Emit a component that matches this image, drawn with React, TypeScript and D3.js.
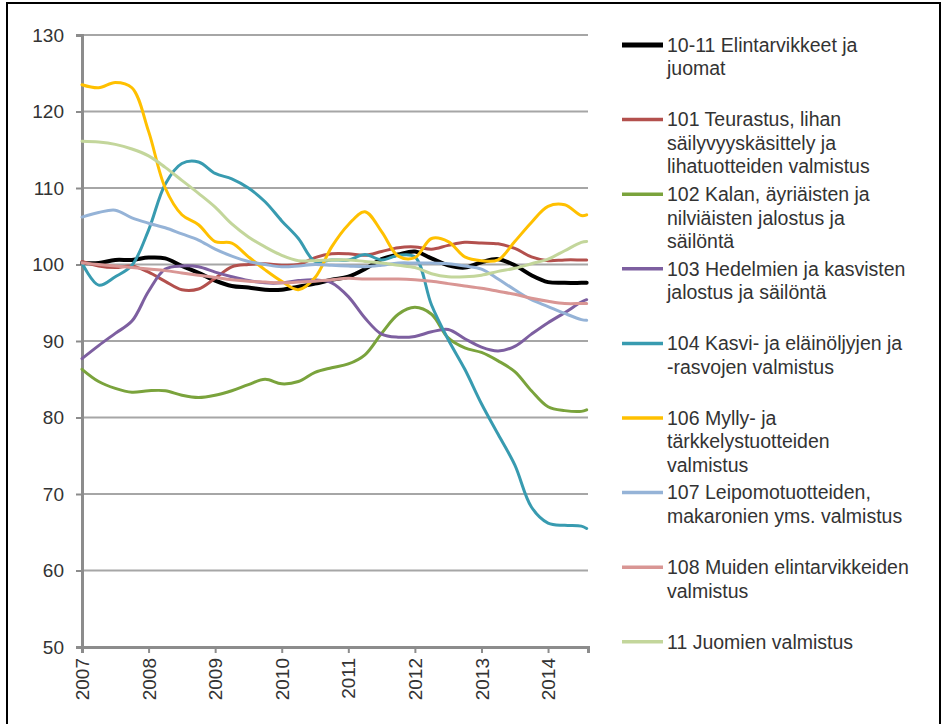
import React, { useRef, useEffect } from "react";
import * as d3 from "d3";

// quarterly readings, last point = mid 2014
const dates = [
  2007, 2007.25, 2007.5, 2007.75, 2008, 2008.25, 2008.5, 2008.75,
  2009, 2009.25, 2009.5, 2009.75, 2010, 2010.25, 2010.5, 2010.75,
  2011, 2011.25, 2011.5, 2011.75, 2012, 2012.25, 2012.5, 2012.75,
  2013, 2013.25, 2013.5, 2013.75, 2014, 2014.25, 2014.5, 2014.58,
];

const s1011 = [100.2, 100.2, 100.6, 100.6, 100.9, 100.8, 99.8, 98.9, 97.9, 97.2, 97.0, 96.7, 96.7, 97.1, 97.5, 98.0, 98.4, 99.4, 100.7, 101.3, 101.7, 100.8, 99.9, 99.6, 100.3, 100.7, 99.9, 98.6, 97.7, 97.6, 97.6, 97.6];
const s101 = [100.4, 99.8, 99.6, 99.8, 99.0, 97.8, 96.7, 96.8, 98.2, 99.7, 100.0, 100.1, 99.9, 100.0, 100.9, 101.4, 101.4, 101.2, 101.7, 102.2, 102.3, 102.0, 102.5, 102.9, 102.8, 102.7, 102.1, 101.0, 100.5, 100.6, 100.6, 100.6];
const s102 = [86.3, 84.7, 83.8, 83.3, 83.5, 83.5, 82.9, 82.6, 82.9, 83.5, 84.3, 85.0, 84.4, 84.7, 85.9, 86.5, 87.0, 88.2, 91.0, 93.5, 94.4, 93.5, 90.4, 89.1, 88.5, 87.4, 86.0, 83.5, 81.4, 80.9, 80.8, 81.0];
const s103 = [87.7, 89.4, 91.0, 92.6, 96.5, 99.4, 99.8, 99.7, 99.0, 98.4, 97.9, 97.6, 97.6, 97.9, 98.0, 97.6, 95.8, 93.0, 90.9, 90.5, 90.6, 91.2, 91.5, 90.3, 89.2, 88.7, 89.3, 90.9, 92.4, 93.7, 95.1, 95.4];
const s104 = [100.2, 97.3, 98.4, 99.9, 104.5, 110.5, 113.2, 113.4, 111.9, 111.2, 110.0, 108.2, 105.7, 103.4, 100.4, 100.6, 100.6, 101.3, 100.6, 101.2, 101.0, 94.7, 90.2, 86.3, 81.8, 77.8, 73.8, 68.3, 66.2, 65.9, 65.8, 65.5];
const s106 = [123.5, 123.1, 123.8, 123.1, 117.4, 110.0, 106.5, 105.2, 103.0, 102.8, 101.0, 99.3, 97.8, 96.7, 98.3, 102.3, 105.2, 106.9, 104.3, 101.1, 100.9, 103.4, 103.0, 101.0, 100.5, 100.6, 103.0, 105.5, 107.6, 107.8, 106.4, 106.5];
const s107 = [106.2, 106.8, 107.1, 106.1, 105.4, 104.8, 104.0, 103.2, 102.0, 101.1, 100.4, 100.0, 99.7, 99.8, 100.0, 99.9, 99.8, 99.7, 99.9, 100.2, 100.2, 100.2, 100.1, 99.8, 99.4, 98.1, 96.7, 95.4, 94.5, 93.6, 92.8, 92.7];
const s108 = [100.2, 100.0, 99.8, 99.6, 99.4, 99.2, 98.9, 98.6, 98.3, 98.0, 97.8, 97.7, 97.6, 97.7, 97.8, 98.0, 98.2, 98.1, 98.1, 98.1, 98.0, 97.8, 97.5, 97.2, 96.9, 96.5, 96.1, 95.6, 95.2, 94.9, 94.9, 94.9];
const s11 = [116.1, 116.0, 115.7, 115.1, 114.2, 112.7, 111.0, 109.3, 107.5, 105.3, 103.6, 102.3, 101.2, 100.5, 100.5, 100.6, 100.6, 100.4, 100.2, 99.9, 99.6, 98.8, 98.4, 98.4, 98.6, 99.1, 99.5, 100.1, 100.7, 101.8, 102.9, 103.0];

const seriesValues = [s1011, s101, s102, s103, s104, s106, s107, s108, s11];
const seriesColors = ["#000000", "#b3504d", "#7aa33c", "#7d5fa0", "#389bb0", "#ffc000", "#95b3d7", "#d99694", "#c3d69b"];
const seriesLabels = [
  ["10-11 Elintarvikkeet ja", "juomat"],
  ["101 Teurastus, lihan", "säilyvyyskäsittely ja", "lihatuotteiden valmistus"],
  ["102 Kalan, äyriäisten ja", "nilviäisten jalostus ja", "säilöntä"],
  ["103 Hedelmien ja kasvisten", "jalostus ja säilöntä"],
  ["104 Kasvi- ja eläinöljyjen ja", "-rasvojen valmistus"],
  ["106 Mylly- ja", "tärkkelystuotteiden", "valmistus"],
  ["107 Leipomotuotteiden,", "makaronien yms. valmistus"],
  ["108 Muiden elintarvikkeiden", "valmistus"],
  ["11 Juomien valmistus"],
];

const yTicks = [50, 60, 70, 80, 90, 100, 110, 120, 130];
const yearTicks = [2007, 2008, 2009, 2010, 2011, 2012, 2013, 2014];

function Chart() {
  const svgRef = useRef<SVGSVGElement>(null);

  useEffect(() => {
    d3.select(svgRef.current).selectAll("*").remove();
    const width = 943;
    const height = 724;
    const left = 82, right = 588, top = 35, bottom = 647;
    const font = "'Liberation Sans', Arial, sans-serif";
    const textColor = "#333";

    const svg = d3.select(svgRef.current)
      .attr("width", width)
      .attr("height", height)
      .style("font-family", font);

    svg.append("rect")
      .attr("width", width).attr("height", height).attr("fill", "#fff");

    // frame
    svg.append("rect")
      .attr("x", 7).attr("y", 3)
      .attr("width", 933).attr("height", 740)
      .attr("fill", "none").attr("stroke", "#000").attr("stroke-width", 2);

    // scales
    const x = d3.scaleLinear().domain([2007, 2014.6]).range([left, right]);
    const y = d3.scaleLinear().domain([50, 130]).range([bottom, top]);

    // grid
    svg.append("g")
      .selectAll("line")
      .data(yTicks.filter(t => t > 50))
      .join("line")
        .attr("x1", left).attr("x2", right)
        .attr("y1", d => y(d)).attr("y2", d => y(d))
        .attr("stroke", "#a6a6a6").attr("stroke-width", 2);

    // y axis
    const yAxis = d3.axisLeft(y).tickValues(yTicks).tickSize(6).tickPadding(12);
    const gy = svg.append("g").attr("transform", `translate(${left},0)`).call(yAxis);
    gy.select(".domain").attr("stroke", "#8c8c8c").attr("stroke-width", 3);
    gy.selectAll(".tick line").attr("stroke", "#8c8c8c").attr("stroke-width", 2);
    gy.selectAll(".tick text")
      .attr("fill", textColor)
      .style("font-size", "19px")
      .style("font-family", font);

    // x axis
    const xAxis = d3.axisBottom(x).tickValues(yearTicks).tickSize(6).tickFormat(d3.format("d"));
    const gx = svg.append("g").attr("transform", `translate(0,${bottom})`).call(xAxis);
    gx.select(".domain").attr("stroke", "#8c8c8c").attr("stroke-width", 3);
    gx.selectAll(".tick line").attr("stroke", "#8c8c8c").attr("stroke-width", 2);
    gx.selectAll(".tick text")
      .attr("fill", textColor)
      .style("font-size", "19px")
      .style("font-family", font)
      .attr("text-anchor", "end")
      .attr("transform", "rotate(-90)")
      .attr("x", -11)
      .attr("y", 0)
      .attr("dy", "0.35em");

    // lines
    const line = d3.line<number>()
      .x((_, i) => x(dates[i]))
      .y(v => y(v))
      .curve(d3.curveCatmullRom.alpha(0.5));

    svg.append("g")
      .selectAll("path")
      .data(seriesValues)
      .join("path")
        .attr("d", d => line(d))
        .attr("fill", "none")
        .attr("stroke", (_, i) => seriesColors[i])
        .attr("stroke-width", (_, i) => (i === 0 ? 4 : 3))
        .attr("stroke-linejoin", "round")
        .attr("stroke-linecap", "round");

    // legend
    const legend = svg.append("g");
    const entries = legend.selectAll("g")
      .data(seriesLabels)
      .join("g")
        .attr("transform", (_, i) => `translate(622,${45 + i * 74.6})`);
    entries.append("line")
      .attr("x1", 0).attr("x2", 41)
      .attr("stroke", (_, i) => seriesColors[i])
      .attr("stroke-width", (_, i) => (i === 0 ? 5 : 3.5));
    entries.append("text")
      .attr("x", 45)
      .attr("fill", textColor)
      .style("font-size", "19.5px")
      .selectAll("tspan")
      .data(d => d)
      .join("tspan")
        .attr("x", 45)
        .attr("y", (_, j) => j * 23.5)
        .attr("dy", "0.35em")
        .text(d => d);
  }, []);

  return <svg ref={svgRef}></svg>;
}

export default function App() {
  return (
    <div style={{ position: "absolute", left: 0, top: 0 }}>
      <Chart />
    </div>
  );
}
